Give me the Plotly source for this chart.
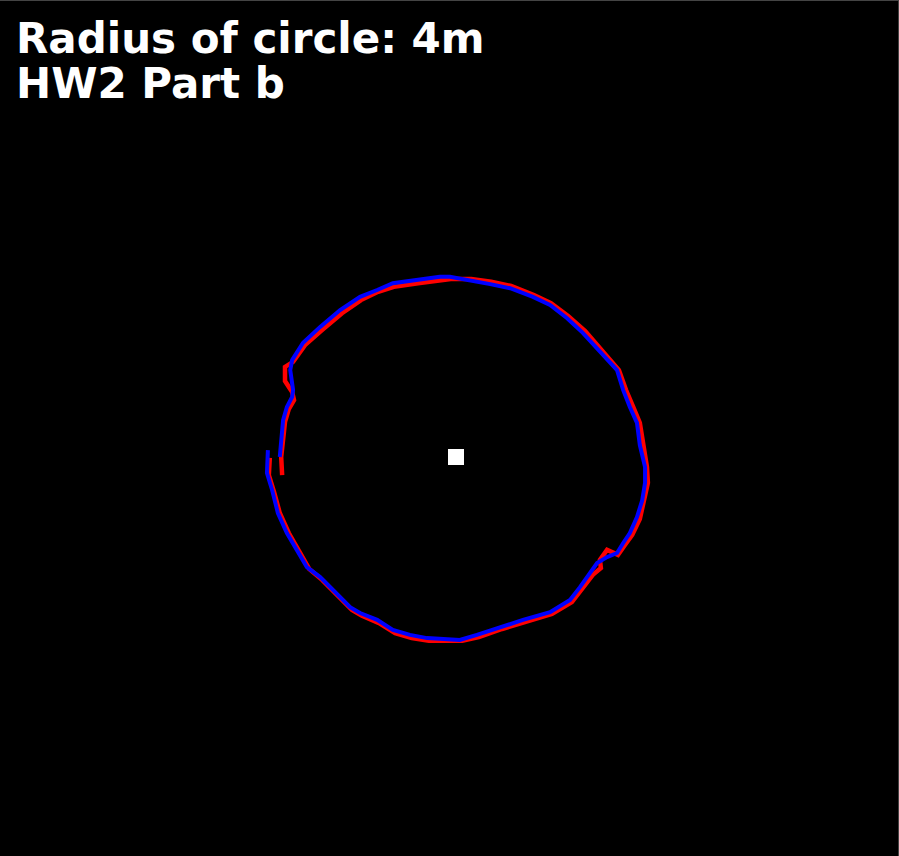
import plotly.graph_objects as go

# tracked path (m) - red, drawn underneath
red_x = [-3.92, -3.94, -3.83, -3.71, -3.52, -3.31, -3.09, -2.82, -2.55, -2.19, -1.98, -1.62,
         -1.28, -0.93, -0.57, -0.15, 0.13, 0.48, 0.97, 1.45, 2.02, 2.44, 2.67, 2.88,
         3.05, 3.03, 3.18, 3.41, 3.56, 3.71, 3.87, 3.96, 4.04, 4.02, 3.94, 3.87,
         3.73, 3.58, 3.43, 3.07, 2.72, 2.36, 2.00, 1.64, 1.16, 0.74, 0.32, -0.11,
         -0.32, -0.80, -1.31, -1.64, -2.00, -2.40, -2.82, -3.18, -3.43, -3.60, -3.60, -3.45,
         -3.41, -3.52, -3.60, -3.64, -3.68, -3.66]
red_y = [-0.02, -0.40, -0.77, -1.23, -1.67, -2.07, -2.46, -2.70, -2.99, -3.36, -3.49, -3.65,
         -3.87, -3.98, -4.04, -4.04, -4.04, -3.96, -3.78, -3.63, -3.45, -3.19, -2.88, -2.59,
         -2.44, -2.26, -2.04, -2.15, -1.93, -1.71, -1.36, -0.97, -0.57, -0.22, 0.26, 0.75,
         1.10, 1.47, 1.91, 2.33, 2.77, 3.10, 3.38, 3.56, 3.76, 3.85, 3.91, 3.91,
         3.89, 3.82, 3.74, 3.63, 3.45, 3.16, 2.79, 2.46, 2.09, 1.98, 1.67, 1.43,
         1.25, 1.05, 0.77, 0.42, 0.00, -0.40]

# second path (m) - blue, on top
blue_x = [-3.96, -3.98, -3.87, -3.75, -3.56, -3.35, -3.14, -2.86, -2.59, -2.23, -2.02, -1.66,
          -1.33, -0.97, -0.61, -0.19, 0.08, 0.44, 0.93, 1.41, 1.98, 2.40, 2.61, 2.82,
          2.97, 3.18, 3.39, 3.52, 3.66, 3.81, 3.92, 3.98, 3.98, 3.87, 3.81, 3.66,
          3.52, 3.39, 3.03, 2.67, 2.34, 1.98, 1.62, 1.14, 0.72, 0.29, -0.13, -0.34,
          -0.82, -1.33, -1.66, -2.02, -2.44, -2.86, -3.22, -3.45, -3.49, -3.43, -3.45, -3.56,
          -3.64, -3.68, -3.71]
blue_y = [0.15, -0.35, -0.73, -1.23, -1.67, -2.04, -2.42, -2.64, -2.92, -3.30, -3.43, -3.58,
          -3.80, -3.91, -3.98, -4.00, -4.02, -3.91, -3.74, -3.58, -3.41, -3.14, -2.86, -2.55,
          -2.33, -2.20, -2.11, -1.89, -1.67, -1.32, -0.95, -0.57, -0.22, 0.26, 0.75, 1.10,
          1.47, 1.91, 2.31, 2.73, 3.05, 3.34, 3.52, 3.71, 3.80, 3.87, 3.96, 3.96,
          3.89, 3.82, 3.67, 3.52, 3.23, 2.86, 2.51, 2.13, 1.91, 1.47, 1.32, 1.10,
          0.81, 0.44, 0.00]

# circle centre
center_x = [0.0]
center_y = [0.0]

title_lines = ["Radius of circle: 4m", "HW2 Part b"]

fig = go.Figure()
fig.add_trace(go.Scatter(x=red_x, y=red_y, mode="lines",
                         line=dict(color="#ff0000", width=4.5), hoverinfo="skip"))
fig.add_trace(go.Scatter(x=blue_x, y=blue_y, mode="lines",
                         line=dict(color="#0000ff", width=4), hoverinfo="skip"))
fig.add_trace(go.Scatter(x=center_x, y=center_y, mode="markers",
                         marker=dict(symbol="square", size=16, color="white",
                                     line=dict(width=0))))

for i, txt in enumerate(title_lines):
    fig.add_annotation(text=txt, xref="paper", yref="paper",
                       x=14 / 899, y=1 - (12 + 45 * i) / 856,
                       xanchor="left", yanchor="top", showarrow=False,
                       font=dict(family="DejaVu Sans", size=42, color="white",
                                 weight="bold"))

# faint frame on top / right edge
fig.add_shape(type="line", xref="paper", yref="paper", x0=0, x1=1, y0=1, y1=1,
              line=dict(color="#444444", width=2))
fig.add_shape(type="line", xref="paper", yref="paper", x0=1, x1=1, y0=0, y1=1,
              line=dict(color="#444444", width=2))

fig.update_xaxes(range=[-9.6, 9.326], visible=False, fixedrange=True)
fig.update_yaxes(range=[-8.769, 10.044], visible=False, fixedrange=True)
fig.update_layout(width=899, height=856, showlegend=False,
                  paper_bgcolor="black", plot_bgcolor="black",
                  margin=dict(l=0, r=0, t=0, b=0))

# page itself: no body margin, black behind the plot
fig.write_html("out.html", config={"displayModeBar": False},
               post_script="document.body.style.margin='0';"
                           "document.body.style.background='black';"
                           "document.body.style.overflow='hidden';")
